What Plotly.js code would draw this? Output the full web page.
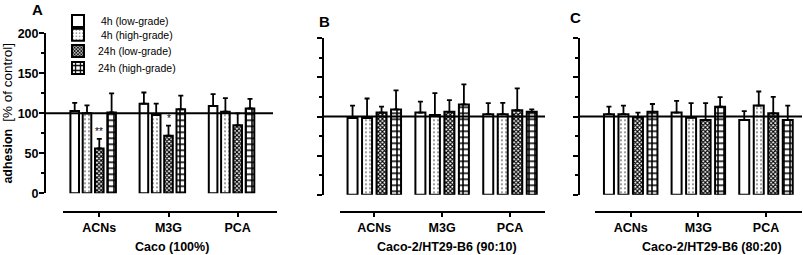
<!DOCTYPE html>
<html><head><meta charset="utf-8">
<script src="https://cdn.plot.ly/plotly-3.0.1.min.js"></script>
<style>html,body{margin:0;padding:0;background:#fff}#chart{width:803px;height:255px}</style>
</head><body><div id="chart"></div>
<script>
// ---------- data ----------
const categories = ['ACNs', 'M3G', 'PCA'];
const seriesNames = ['\u00a04h (low-grade)', '\u00a04h (high-grade)', '24h (low-grade)', '24h (high-grade)'];
const panelLetters = ['A', 'B', 'C'];
const panelTitles = ['Caco (100%)', 'Caco-2/HT29-B6 (90:10)', 'Caco-2/HT29-B6 (80:20)'];
const controlLevel = 100;
const yTickVals = [0, 50, 100, 150, 200];
const yTickText = ['0', '50', '100', '150', '200'];

// Panel A: Caco (100%)
const caco_4hLow = [103, 112, 109];
const caco_4hLow_sd = [10, 14, 15];
const caco_4hHigh = [100, 98, 102];
const caco_4hHigh_sd = [10, 14, 17];
const caco_24hLow = [56, 72, 85];
const caco_24hLow_sd = [12, 12.5, 15];
const caco_24hHigh = [101, 105, 106];
const caco_24hHigh_sd = [24, 17, 12];
const caco_24hLow_sig = ['**', '*', ''];

// Panel B: Caco-2/HT29-B6 (90:10)
const mix90_4hLow = [98, 105, 103];
const mix90_4hLow_sd = [16, 14, 14];
const mix90_4hHigh = [98, 102, 103];
const mix90_4hHigh_sd = [25, 28, 14.5];
const mix90_24hLow = [105, 106, 108];
const mix90_24hLow_sd = [7.5, 15, 28];
const mix90_24hHigh = [109, 115.5, 106];
const mix90_24hHigh_sd = [24.5, 25.5, 3];

// Panel C: Caco-2/HT29-B6 (80:20)
const mix80_4hLow = [103, 105, 95.5];
const mix80_4hLow_sd = [9.5, 15, 11.5];
const mix80_4hHigh = [103, 98.5, 114];
const mix80_4hHigh_sd = [11, 18.5, 18];
const mix80_24hLow = [99, 95.5, 104];
const mix80_24hLow_sd = [6, 21.5, 21];
const mix80_24hHigh = [106, 112.5, 95.5];
const mix80_24hHigh_sd = [10, 12.2, 18.5];

// ---------- build ----------
const panels = [
  {means: [caco_4hLow, caco_4hHigh, caco_24hLow, caco_24hHigh],
   sds: [caco_4hLow_sd, caco_4hHigh_sd, caco_24hLow_sd, caco_24hHigh_sd]},
  {means: [mix90_4hLow, mix90_4hHigh, mix90_24hLow, mix90_24hHigh],
   sds: [mix90_4hLow_sd, mix90_4hHigh_sd, mix90_24hLow_sd, mix90_24hHigh_sd]},
  {means: [mix80_4hLow, mix80_4hHigh, mix80_24hLow, mix80_24hHigh],
   sds: [mix80_4hLow_sd, mix80_4hHigh_sd, mix80_24hLow_sd, mix80_24hHigh_sd]}
];

const W = 803, H = 255;
const px = v => v / W, py = v => 1 - v / H;
const FONT = 'Arial, "Liberation Sans", Helvetica, sans-serif';

// geometry (pixels) per panel
const geo = [
  {xDom: [63, 277], tick0: 99.3, tickPitch: 69.2, yAxisX: 45, yTop: 33.3, yBot: 193.3, refX: [45, 273],
   barPitch: 12.3, barW: 8.6, center: 2},
  {xDom: [340, 545], tick0: 374.3, tickPitch: 67.85, yAxisX: 323, yTop: 38.3, yBot: 194.7, refX: [323, 545],
   barPitch: 14.5, barW: 10, center: 1.5},
  {xDom: [595, 802], tick0: 630.7, tickPitch: 67.65, yAxisX: 579, yTop: 38.3, yBot: 194.7, refX: [579, 802],
   barPitch: 14.5, barW: 10, center: 1.5}
];
const xAxisY = 211.7;

const patterns = [
  {shape: ''},
  {shape: '.', fgcolor: '#7a7a7a', bgcolor: '#ffffff', size: 4, solidity: 0.18},
  {shape: 'x', fgcolor: '#000000', bgcolor: '#ffffff', size: 3, solidity: 0.6},
  {shape: '+', fgcolor: '#000000', bgcolor: '#ffffff', size: 6, solidity: 0.45}
];
const legendIds = ['legend', 'legend2', 'legend3', 'legend4'];
const legendYs = [21, 34.8, 51, 68];

const traces = [];
const layout = {
  width: W, height: H,
  margin: {l: 0, r: 0, t: 0, b: 0},
  paper_bgcolor: '#ffffff', plot_bgcolor: 'rgba(0,0,0,0)',
  barmode: 'overlay',
  font: {family: FONT, color: '#000'},
  shapes: [], annotations: []
};

panels.forEach((pan, p) => {
  const g = geo[p];
  const sfx = p === 0 ? '' : String(p + 1);
  const unit = g.tickPitch;
  const pitchU = g.barPitch / unit, wU = g.barW / unit;
  pan.means.forEach((vals, s) => {
    traces.push({
      type: 'bar',
      name: seriesNames[s],
      x: categories, y: vals,
      xaxis: 'x' + sfx, yaxis: 'y' + sfx,
      width: wU,
      offset: (s - g.center) * pitchU - wU / 2,
      showlegend: p === 0,
      legend: legendIds[s],
      marker: {color: '#ffffff', line: {color: '#000', width: 2}, pattern: patterns[s]},
      error_y: {type: 'data', symmetric: false, array: pan.sds[s], arrayminus: pan.sds[s].map(() => 0),
                color: '#000', thickness: 1.8, width: 2.5},
      hoverinfo: 'skip'
    });
  });
  layout['xaxis' + sfx] = {
    type: 'category', categoryorder: 'array', categoryarray: categories,
    domain: [px(g.xDom[0]), px(g.xDom[1])],
    range: [(g.xDom[0] - g.tick0) / unit, (g.xDom[1] - g.tick0) / unit],
    anchor: 'free', position: py(xAxisY),
    showline: true, linewidth: 2, linecolor: '#000',
    ticks: 'outside', ticklen: 4, tickwidth: 2, tickcolor: '#000',
    tickfont: {family: FONT, size: 12.5, weight: 'bold', color: '#000'},
    showgrid: false, zeroline: false, fixedrange: true
  };
  const ya = {
    domain: [py(g.yBot), py(g.yTop)], range: [0, 200],
    anchor: 'free', position: px(g.yAxisX),
    showline: true, linewidth: 2, linecolor: '#000',
    ticks: 'outside', ticklen: 5, tickwidth: 2, tickcolor: '#000',
    tickmode: 'array', tickvals: yTickVals, ticktext: yTickText,
    showticklabels: p === 0, ticklabelstandoff: -2,
    tickfont: {family: FONT, size: 12.5, weight: 'bold', color: '#000'},
    minor: {dtick: 25, ticks: 'outside', ticklen: 3, tickwidth: 2, tickcolor: '#000', showgrid: false},
    showgrid: false, zeroline: false, fixedrange: true
  };
  if (p === 0) {
    ya.title = {text: '<b>adhesion</b>  <span style="font-size:13.5px">[% of control]</span>',
                font: {family: FONT, size: 12.5, color: '#000'}, standoff: 4};
  }
  layout['yaxis' + sfx] = ya;
  layout.shapes.push({type: 'line', xref: 'paper', yref: 'y' + sfx,
    x0: px(g.refX[0]), x1: px(g.refX[1]), y0: controlLevel, y1: controlLevel,
    line: {color: '#000', width: 2}, layer: 'above'});
});

// legends (one per entry, panel A)
legendIds.forEach((id, i) => {
  layout[id] = {x: px(58), xanchor: 'left', y: py(legendYs[i]), yanchor: 'middle',
    bgcolor: 'rgba(0,0,0,0)', borderwidth: 0,
    font: {family: FONT, size: 10.5, color: '#000'}};
});

// panel letters & x titles
const letterPos = [[37, 10], [324, 21], [575.5, 18]];
const titlePos = [171.7, 446.7, 711.5];
panelLetters.forEach((L, p) => {
  layout.annotations.push({xref: 'paper', yref: 'paper', x: px(letterPos[p][0]), y: py(letterPos[p][1]),
    xanchor: 'center', yanchor: 'middle', showarrow: false, text: '<b>' + L + '</b>',
    font: {family: FONT, size: 15, color: '#000'}});
  layout.annotations.push({xref: 'paper', yref: 'paper', x: px(titlePos[p]), y: py(247),
    xanchor: 'center', yanchor: 'middle', showarrow: false, text: '<b>' + panelTitles[p] + '</b>',
    font: {family: FONT, size: 12.5, color: '#000'}});
});

// significance markers
caco_24hLow_sig.forEach((t, i) => {
  if (!t) return;
  layout.annotations.push({xref: 'x', yref: 'y', x: categories[i], y: caco_24hLow[i] + caco_24hLow_sd[i],
    xanchor: 'center', yanchor: 'bottom', yshift: 0, showarrow: false, text: t,
    font: {family: FONT, size: 10, color: '#000'}});
});

Plotly.newPlot('chart', traces, layout, {staticPlot: true, displayModeBar: false});
</script></body></html>
